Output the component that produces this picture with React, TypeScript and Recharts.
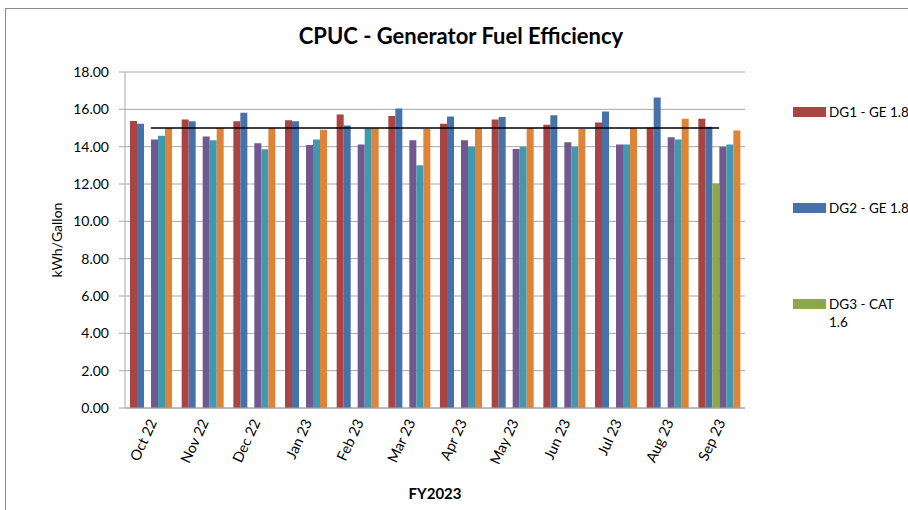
import { Bar, CartesianGrid, Legend, Line, XAxis, YAxis, ComposedChart } from "recharts"

const months = ["Oct 22", "Nov 22", "Dec 22", "Jan 23", "Feb 23", "Mar 23", "Apr 23", "May 23", "Jun 23", "Jul 23", "Aug 23", "Sep 23"]

const dg1 = [15.37, 15.45, 15.36, 15.41, 15.72, 15.64, 15.23, 15.45, 15.18, 15.29, 15.03, 15.5]
const dg2 = [15.23, 15.36, 15.82, 15.36, 15.13, 16.05, 15.62, 15.59, 15.68, 15.88, 16.63, 15.07]
const dg3 = [null, null, null, null, null, null, null, null, null, null, null, 12.03]
const dg4 = [14.38, 14.54, 14.18, 14.09, 14.12, 14.34, 14.34, 13.87, 14.23, 14.12, 14.5, 14.0]
const dg5 = [14.59, 14.34, 13.86, 14.39, 14.97, 13.0, 14.0, 14.0, 14.0, 14.12, 14.39, 14.12]
const dg6 = [15.0, 15.0, 15.0, 14.91, 14.98, 14.94, 15.0, 15.0, 14.94, 15.0, 15.5, 14.87]
const target = [15, 15, 15, 15, 15, 15, 15, 15, 15, 15, 15, 15]

const yTicks = [0, 2, 4, 6, 8, 10, 12, 14, 16, 18]

const series = [
  { key: "dg1", name: "DG1 - GE 1.8", color: "#a94442" },
  { key: "dg2", name: "DG2 - GE 1.8", color: "#4672a9" },
  { key: "dg3", name: "DG3 - CAT 1.6", color: "#8ca84c" },
  { key: "dg4", name: "DG4", color: "#71588f" },
  { key: "dg5", name: "DG5", color: "#4199af" },
  { key: "dg6", name: "DG6", color: "#dd8438" },
]
// only the first three fit in the legend box
const legendShown = ["dg1", "dg2", "dg3"]

const data = months.map((m, i) => ({
  month: m,
  dg1: dg1[i],
  dg2: dg2[i],
  dg3: dg3[i],
  dg4: dg4[i],
  dg5: dg5[i],
  dg6: dg6[i],
  target: target[i],
}))

const font = "Lato, 'Open Sans', sans-serif"

const MonthTick = ({ x, y, payload }: any) => (
  <g transform={`translate(${x + 2},${y + 4})`}>
    <text transform="rotate(-65)" textAnchor="end" dy={5} fontSize={14.5} fontFamily={font} fill="#000">
      {payload.value}
    </text>
  </g>
)

const LegendBox = () => (
  <div style={{ fontFamily: font, fontSize: 13.5, color: "#000" }}>
    {series
      .filter((s) => legendShown.includes(s.key))
      .map((s) => (
        <div key={s.key} style={{ height: 96, display: "flex", alignItems: "flex-start" }}>
          <div style={{ width: 33, height: 10, marginTop: 4, background: s.color, flexShrink: 0 }} />
          <div style={{ marginLeft: 3, width: 74, lineHeight: "18px", whiteSpace: s.key === "dg3" ? "normal" : "nowrap" }}>
            {s.name}
          </div>
        </div>
      ))}
  </div>
)

export default function App() {
  return (
    <div style={{ position: "absolute", left: 0, top: 0, width: 908, height: 510, overflow: "hidden", background: "#fff" }}>
      <div style={{ position: "absolute", left: 5, top: 8, width: 1000, height: 1000, borderLeft: "1px solid #8c8c8c", borderTop: "1px solid #8c8c8c" }} />
      <div
        style={{
          position: "absolute",
          left: 0,
          top: 23,
          width: 922,
          textAlign: "center",
          fontFamily: font,
          fontWeight: 700,
          fontSize: 22,
          lineHeight: "26px",
          color: "#000",
        }}
      >
        CPUC - Generator Fuel Efficiency
      </div>
      <ComposedChart
        width={908}
        height={510}
        data={data}
        margin={{ top: 72, right: 163, left: 0, bottom: 0 }}
        barCategoryGap="9.7%"
        barGap={0}
      >
        <CartesianGrid vertical={false} stroke="#a6a6a6" />
        <XAxis
          dataKey="month"
          height={102}
          tickLine={false}
          axisLine={{ stroke: "#a6a6a6" }}
          tick={<MonthTick />}
          interval={0}
          label={{ value: "FY2023", position: "insideBottom", offset: 11, fontFamily: font, fontWeight: 700, fontSize: 15, fill: "#000" }}
        />
        <YAxis
          width={125}
          domain={[0, 18]}
          ticks={yTicks}
          tickFormatter={(v: number) => v.toFixed(2)}
          tick={{ fontFamily: font, fontSize: 14, fill: "#000" }}
          tickLine={{ stroke: "#a6a6a6" }}
          tickSize={6}
          tickMargin={10}
          axisLine={{ stroke: "#a6a6a6" }}
          label={{ value: "kWh/Gallon", angle: -90, position: "insideLeft", offset: 57, style: { textAnchor: "middle" }, fontFamily: font, fontSize: 14, fill: "#000" }}
        />
        {series.map((s) => (
          <Bar key={s.key} dataKey={s.key} name={s.name} fill={s.color} isAnimationActive={false} />
        ))}
        <Line dataKey="target" name="Target" stroke="#000" strokeWidth={1.5} dot={false} isAnimationActive={false} legendType="none" />
        <Legend
          layout="vertical"
          align="center"
          verticalAlign="middle"
          wrapperStyle={{ left: 793, top: 103, width: 115 }}
          content={<LegendBox />}
        />
      </ComposedChart>
    </div>
  )
}
